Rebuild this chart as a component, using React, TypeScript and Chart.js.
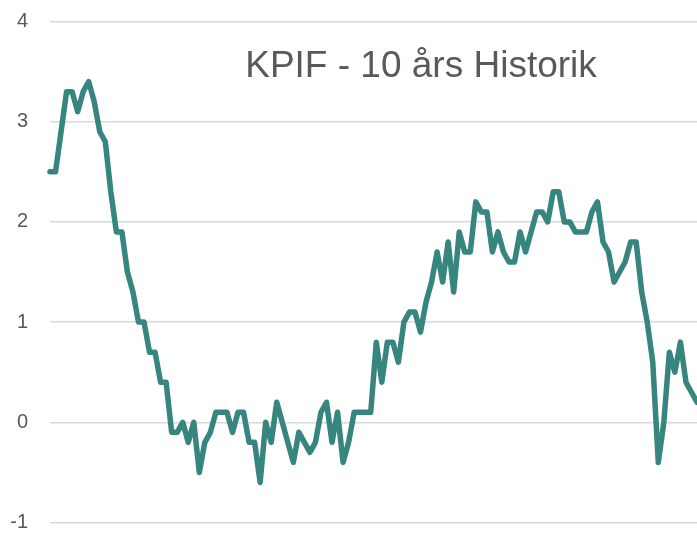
import React, { useEffect, useRef } from "react";
import { Chart, registerables } from "chart.js";

Chart.register(...registerables);

const TITLE = "KPIF - 10 års Historik";

const kpifValues: number[] = [
  2.5, 2.5, 2.9, 3.3, 3.3, 3.1, 3.3, 3.4, 3.2, 2.9,
  2.8, 2.3, 1.9, 1.9, 1.5, 1.3, 1.0, 1.0, 0.7, 0.7,
  0.4, 0.4, -0.1, -0.1, 0.0, -0.2, 0.0, -0.5, -0.2, -0.1,
  0.1, 0.1, 0.1, -0.1, 0.1, 0.1, -0.2, -0.2, -0.6, 0.0,
  -0.2, 0.2, 0.0, -0.2, -0.4, -0.1, -0.2, -0.3, -0.2, 0.1,
  0.2, -0.2, 0.1, -0.4, -0.2, 0.1, 0.1, 0.1, 0.1, 0.8,
  0.4, 0.8, 0.8, 0.6, 1.0, 1.1, 1.1, 0.9, 1.2, 1.4,
  1.7, 1.4, 1.8, 1.3, 1.9, 1.7, 1.7, 2.2, 2.1, 2.1,
  1.7, 1.9, 1.7, 1.6, 1.6, 1.9, 1.7, 1.9, 2.1, 2.1,
  2.0, 2.3, 2.3, 2.0, 2.0, 1.9, 1.9, 1.9, 2.1, 2.2,
  1.8, 1.7, 1.4, 1.5, 1.6, 1.8, 1.8, 1.3, 1.0, 0.6,
  -0.4, 0.0, 0.7, 0.5, 0.8, 0.4, 0.3, 0.2,
];

const monthLabels: string[] = kpifValues.map((_, i) => `M${i + 1}`);

const yTicks: number[] = [-1, 0, 1, 2, 3, 4];

const titlePlugin = {
  id: "innerTitle",
  afterDraw(chart: any) {
    const { ctx } = chart;
    ctx.save();
    ctx.font = '37px "Liberation Sans", Arial, sans-serif';
    ctx.fillStyle = "#595959";
    ctx.textAlign = "center";
    ctx.textBaseline = "alphabetic";
    ctx.fillText(TITLE, 421, 77);
    ctx.restore();
  },
};

export default function App() {
  const canvasRef = useRef<HTMLCanvasElement | null>(null);

  useEffect(() => {
    document.body.style.margin = "0";
    const canvas = canvasRef.current;
    if (!canvas) return;
    const chart = new Chart(canvas, {
      type: "line",
      data: {
        labels: monthLabels,
        datasets: [
          {
            label: "KPIF",
            data: kpifValues,
            borderColor: "#37857F",
            borderWidth: 5.5,
            pointRadius: 0,
            tension: 0,
            borderJoinStyle: "round",
            borderCapStyle: "round",
            fill: false,
            clip: false as any,
          },
        ],
      },
      options: {
        animation: false,
        responsive: false,
        maintainAspectRatio: false,
        layout: { padding: { top: 21.5, bottom: 10.5, left: 0, right: 0 } },
        plugins: {
          legend: { display: false },
          title: { display: false },
          tooltip: { enabled: false },
        },
        scales: {
          x: {
            type: "category",
            display: false,
            offset: false,
          },
          y: {
            min: -1,
            max: 4,
            afterBuildTicks(scale: any) {
              scale.ticks = yTicks.map((v) => ({ value: v }));
            },
            afterFit(scale: any) {
              scale.width = 50;
              scale.paddingTop = 0;
              scale.paddingBottom = 0;
            },
            border: { display: false },
            grid: {
              color: "#d9d9d9",
              lineWidth: 1.5,
              drawTicks: false,
            },
            ticks: {
              padding: 22,
              color: "#595959",
              font: { family: '"Liberation Sans", Arial, sans-serif', size: 20 },
            },
          },
        },
      },
      plugins: [titlePlugin],
    });
    return () => chart.destroy();
  }, []);

  return (
    <div style={{ width: 697, height: 533, position: "relative", background: "#fff" }}>
      <canvas ref={canvasRef} width={697} height={533} style={{ display: "block" }} />
    </div>
  );
}
